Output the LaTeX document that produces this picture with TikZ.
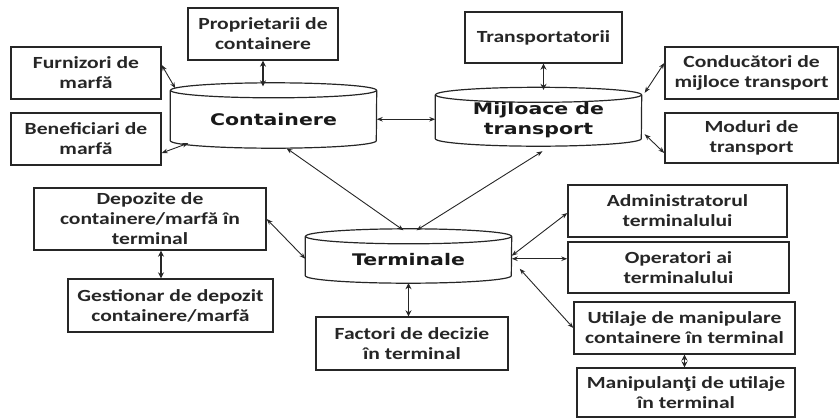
\documentclass[tikz,border=0pt]{standalone}
\usepackage{fontspec}
\usetikzlibrary{arrows.meta}
\newfontfamily\boxfont{Carlito}[FakeStretch=1.27]
\newfontfamily\cylfont{DejaVu Sans}[FakeStretch=1.28]
\tikzset{
  box/.style={draw=black!85, line width=1.4pt, fill=white, align=center, text=black!85,
    font=\boxfont\bfseries\fontsize{17}{20}\selectfont, inner sep=1pt},
  cyl/.style={minimum width=206pt, align=center, text=black!90,
    font=\cylfont\bfseries\fontsize{16}{20}\selectfont, inner sep=0pt},
  cylline/.style={draw=black!85, line width=1.2pt},
  link/.style={draw=black!85, line width=0.9pt,
    {Stealth[length=6pt,width=4.5pt]}-{Stealth[length=6pt,width=4.5pt]}},
  vlink/.style={link, line width=1.5pt,
    {Stealth[length=6pt,width=6pt]}-{Stealth[length=6pt,width=6pt]}}
}
\begin{document}
\begin{tikzpicture}[x=1pt,y=-1pt]
    \useasboundingbox (0,0) rectangle (840,418);
    \node[box, minimum width=150pt, minimum height=52pt] (prop) at (263,34) {Proprietarii de\\containere};
    \node[box, minimum width=150pt, minimum height=52pt] (furn) at (86,73) {Furnizori de\\marfă};
    \node[box, minimum width=150pt, minimum height=52pt] (benef) at (86,139) {Beneficiari de\\marfă};
    \node[box, minimum width=157pt, minimum height=51pt] (transp) at (543.5,37.5) {Transportatorii};
    \node[box, minimum width=173pt, minimum height=52pt] (cond) at (751.5,73) {Conducători de\\mijloce transport};
    \node[box, minimum width=173pt, minimum height=50pt] (moduri) at (751.5,138) {Moduri de\\transport};
    \node[box, minimum width=232pt, minimum height=62pt] (depoz) at (150,219) {Depozite de\\containere/marfă în\\terminal};
    \node[box, minimum width=205pt, minimum height=53pt] (gest) at (170.5,305.5) {Gestionar de depozit\\containere/marfă};
    \node[box, minimum width=192pt, minimum height=53pt] (factori) at (412,343.5) {Factori de decizie\\în terminal};
    \node[box, minimum width=219pt, minimum height=52pt] (admin) at (677.5,211) {Administratorul\\terminalului};
    \node[box, minimum width=221pt, minimum height=51pt] (oper) at (678.5,267.5) {Operatori ai\\terminalului};
    \node[box, minimum width=221pt, minimum height=52pt] (util) at (684.5,328) {Utilaje de manipulare\\containere în terminal};
    \node[box, minimum width=218pt, minimum height=49pt] (manip) at (686,392.5) {Manipulanţi de utilaje\\în terminal};

    \node[cyl, minimum height=57.5pt] (cont) at (273.5,119.25) {Containere};
    \node[cyl, minimum height=51pt] (mij) at (538.5,120.5) {Mijloace de\\transport};
    \node[cyl, minimum height=46.5pt] (term) at (408.5,259.75) {Terminale};
    \foreach \n in {cont,mij,term}{
      \draw[cylline] (\n.north) ellipse [x radius=103pt, y radius=7.5pt];
      \draw[cylline] (\n.north west) -- ([yshift=7.5pt]\n.south west)
        arc [start angle=180, end angle=360, x radius=103pt, y radius=7.5pt]
        -- (\n.north east);
    }

    \draw[vlink] (prop.south) -- ([yshift=4pt]prop.south |- cont.north);
    \draw[link] ([yshift=8pt]furn.east) -- ([xshift=5pt,yshift=2pt]cont.north west);
    \draw[link] ([yshift=-14pt]benef.east) -- ([xshift=18pt,yshift=5pt]cont.south west);
    \draw[link] (cont.east) -- (cont.east -| mij.west);
    \draw[vlink] (transp.south) -- ([yshift=5pt]transp.south |- mij.north);
    \draw[link] ([xshift=3pt,yshift=2pt]mij.north east) -- ([yshift=10pt]cond.west);
    \draw[link] ([xshift=3pt,yshift=12pt]mij.south east) -- ([yshift=-15pt]moduri.west);
    \draw[link] ([xshift=13pt]cont.south) -- ([xshift=-5pt,yshift=6pt]term.north);
    \draw[link] ([xshift=4pt,yshift=-5pt]mij.south) -- ([xshift=8pt,yshift=6pt]term.north);
    \draw[link] (depoz.east) -- ([yshift=1pt]term.west);
    \draw[vlink] ([xshift=11pt]depoz.south) -- ([xshift=11pt]depoz.south |- gest.north);
    \draw[vlink] (term.south) -- (term.south |- factori.north);
    \draw[link] ([yshift=4pt]term.east) -- ([yshift=-2pt]admin.west);
    \draw[link] ([yshift=1pt]term.east) -- ([yshift=1pt]term.east -| oper.west);
    \draw[link] ([xshift=8pt,yshift=-9pt]term.east) -- (util.west);
    \draw[vlink] (util.south) -- (util.south |- manip.north);
\end{tikzpicture}
\end{document}
